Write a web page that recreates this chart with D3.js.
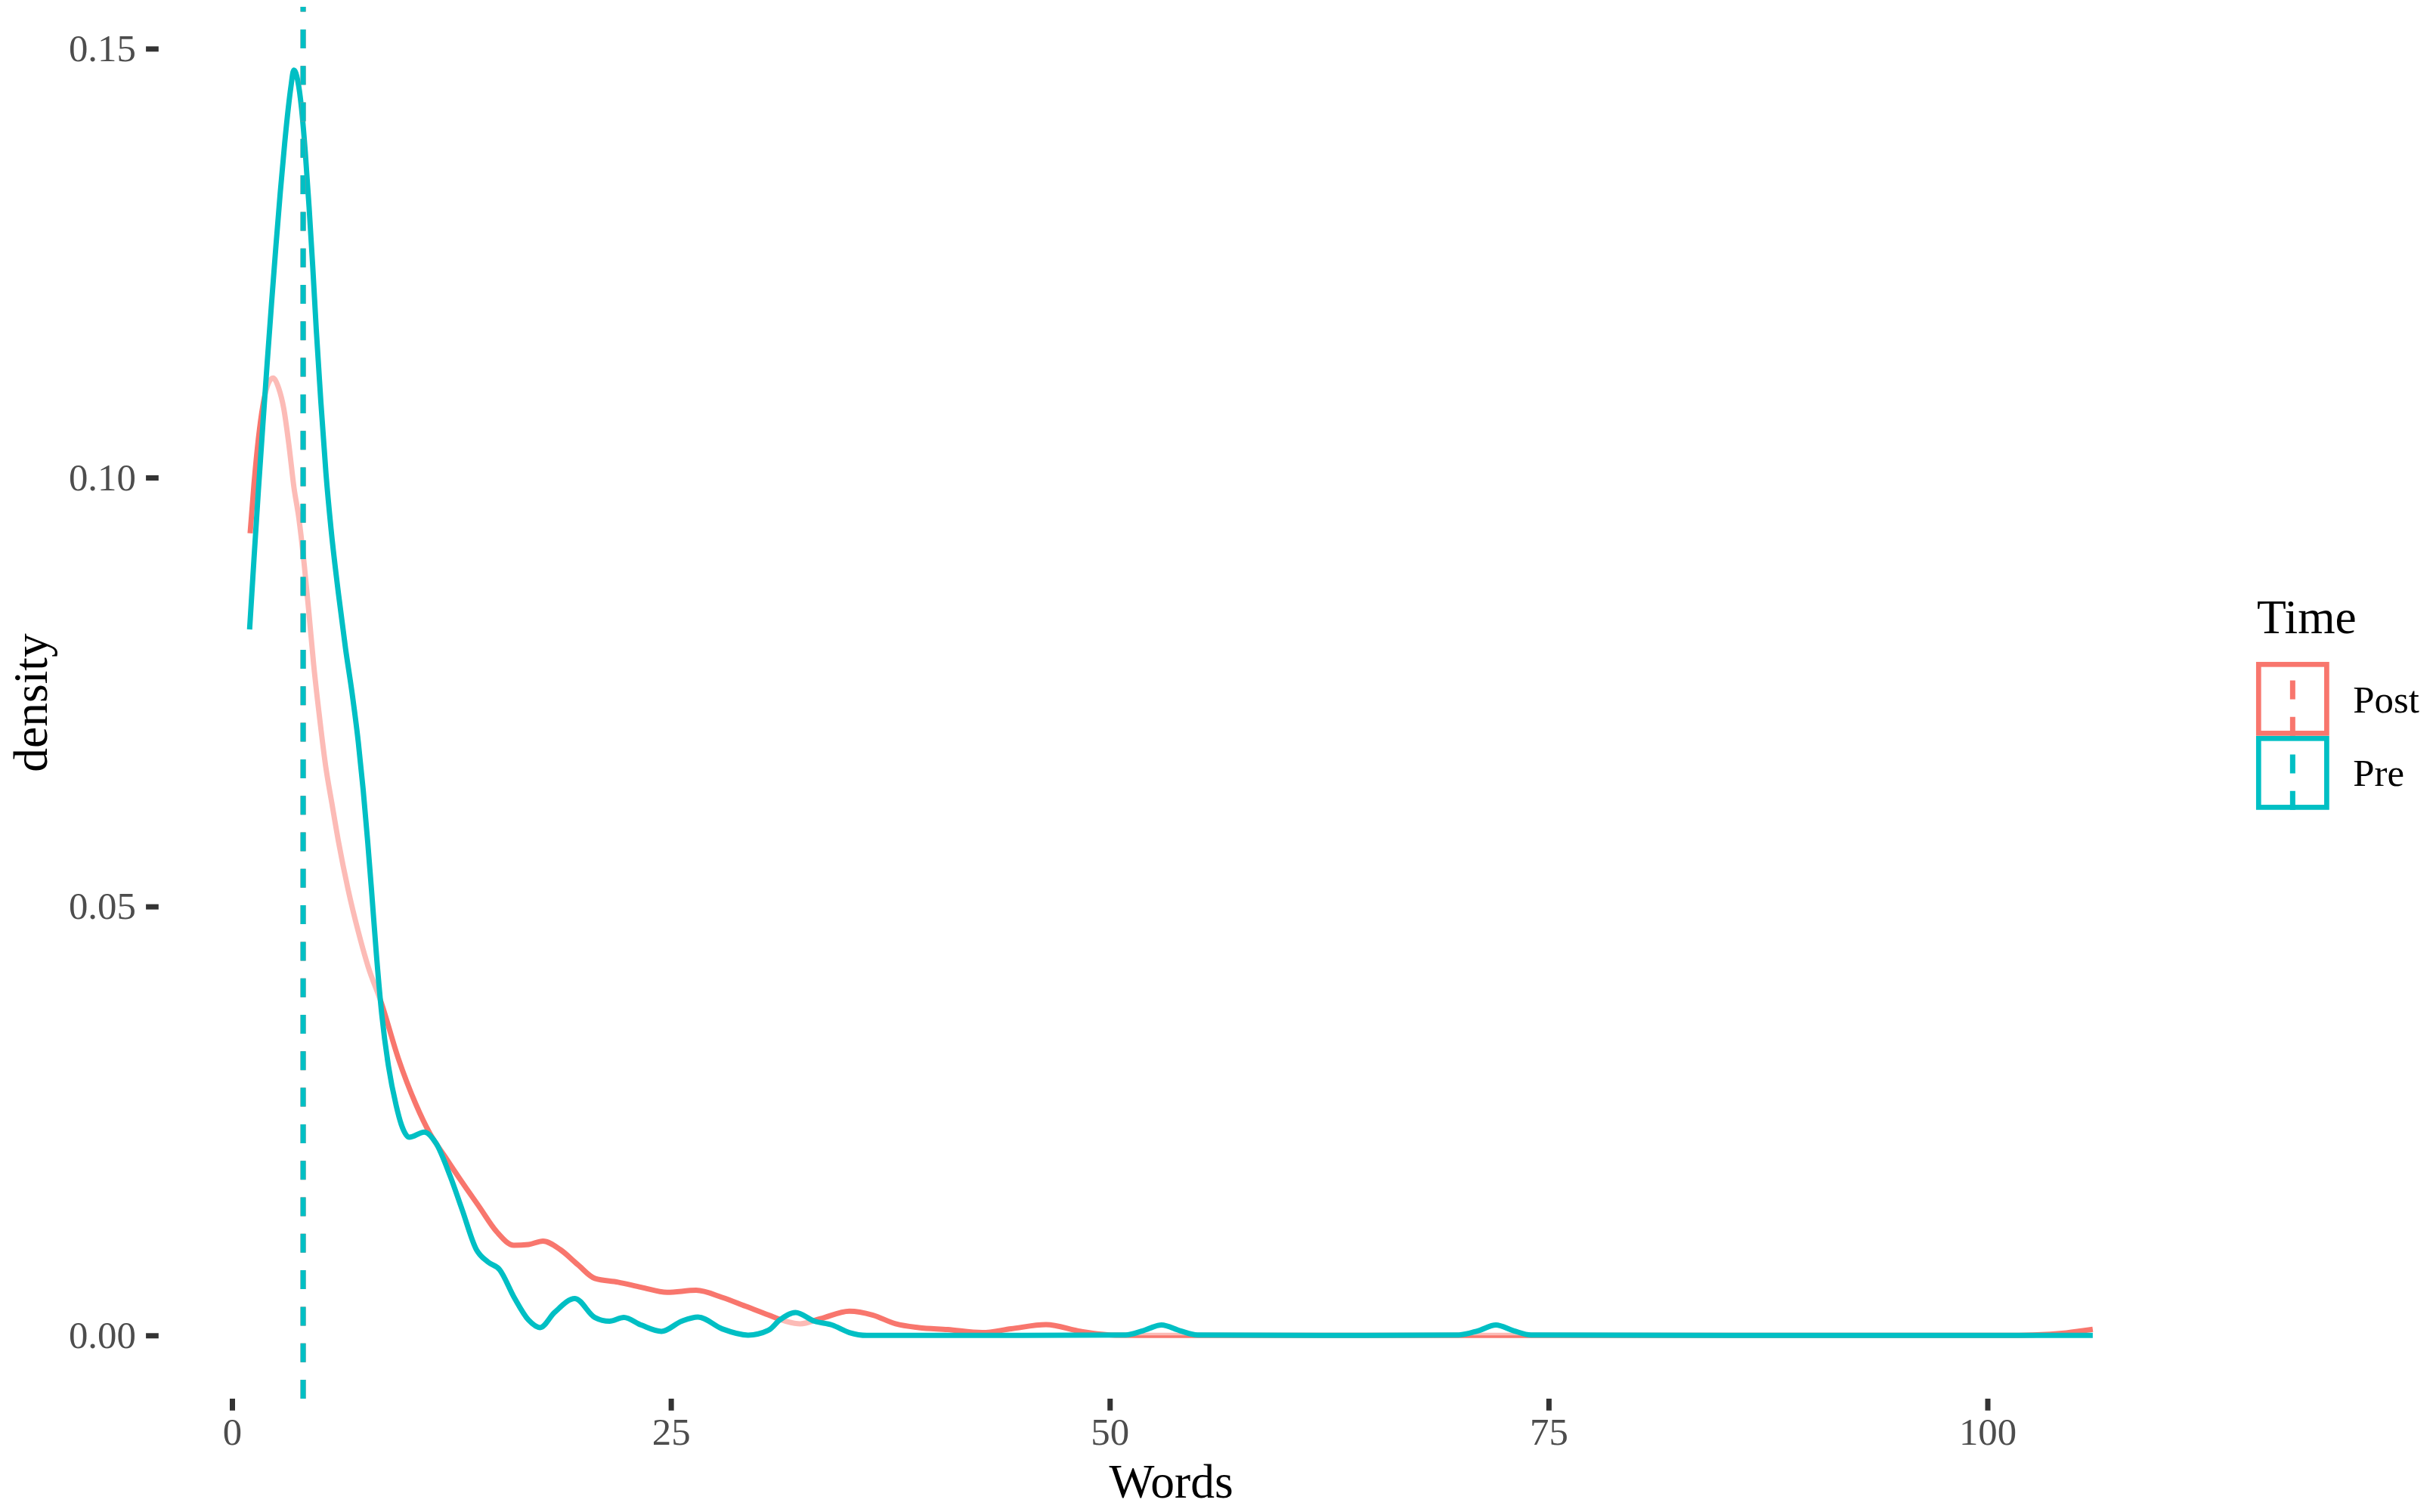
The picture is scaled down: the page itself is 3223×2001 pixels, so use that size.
<!doctype html>
<html lang="en">
  <head>
    <meta charset="UTF-8" />
    <title>Words density, Pre vs Post</title>
    <script src="https://d3js.org/d3.v7.min.js"></script>
    <style>
      html,body{margin:0;padding:0;background:#fff;}
      svg{display:block;font-family:"Liberation Serif","Times New Roman",serif;}
    </style>
  </head>
  <body>
    <div id="chart"></div>
    <script>
      /* ───────── data ───────── */
      const timeLevels = ['Post','Pre'];
      const timeColours = ['#F8766D','#00BFC4'];

      const wordsPost   = [1.03,1.25,1.5,1.75,2.0,2.33,2.66,2.95,3.24,3.53,3.79,4.11,4.39,4.65,4.97,5.33,5.69,6.06,6.61,
                           7.2,7.75,8.5,9.47,10.46,11.28,12.11,13.09,14.08,15.07,16.06,16.9,17.71,18.7,19.69,20.67,21.99,
                           23.31,24.79,26.44,27.92,29.24,30.56,31.55,32.37,33.52,35.17,36.49,37.8,39.12,40.77,42.74,44.39,
                           46.37,48.35,50.3,52,60,80,101,102.6,104.5,106];
      const densityPost = [.0935,.0992,.1045,.1083,.1106,.1116,.1104,.1080,.1038,.0988,.0955,.0899,.0840,.0782,.0723,.0664,.0620,.0576,.0520,
                           .0470,.0430,.0388,.0323,.0270,.0235,.0209,.0179,.0150,.0121,.0105,.0106,.0110,.0100,.00826,.00664,.0062,
                           .00561,.00502,.00526,.00443,.00341,.00238,.00165,.00135,.00194,.00282,.00238,.00135,.00091,.00068,.00033,.00077,
                           .00126,.00047,.00003,0,0,0,0,.00005,.0003,.0007];

      const wordsPre    = [1.0,1.25,1.5,1.75,2.0,2.25,2.5,2.75,3.0,3.2,3.35,3.52,3.75,3.95,4.17,4.39,4.6,4.8,
                           5.06,5.35,5.64,6.06,6.47,6.83,7.19,7.47,7.73,7.95,8.24,8.53,8.91,9.35,9.64,10.1,10.95,11.62,12.44,
                           13.1,13.92,14.58,15.24,16.07,16.89,17.55,18.37,19.53,20.67,21.5,22.32,23.31,24.46,25.61,26.54,27.92,
                           29.4,30.56,31.2,32.1,33.19,34.18,35.17,36.16,45,50.9,51.9,52.95,54.0,55.0,62,69.9,71.0,72.0,73.0,74.0,90,106];
      const densityPre  = [.0823,.0905,.0985,.1060,.1133,.1203,.1270,.1333,.1390,.1430,.1455,.1475,.1462,.1432,.1380,.1315,.1245,.1172,
                           .1088,.1005,.0940,.0865,.0800,.0750,.0692,.0636,.0575,.0518,.0440,.0374,.0314,.0268,.0246,.0231,.0237,.0224,.0185,
                           .0147,.0100,.00855,.00767,.00443,.00179,.00091,.00267,.00429,.00209,.00165,.00209,.00121,.00047,.00165,.00214,.00076,
                           .00003,.0006,.00179,.00267,.00165,.00121,.00033,0,0,.00005,.00055,.00121,.00055,.00005,0,.00005,.00055,.00121,.00055,.00005,0,0];

      const vlineWords = [4.05,4.05];           // Post drawn first, Pre on top

      const xTicks = [0,25,50,75,100];
      const yTicks = [0,0.05,0.10,0.15];

      /* ───────── geometry ───────── */
      const W=3223, H=2001;
      const LW=7;                               // line width of curves / ticks
      const DASH='25,23.3';

      const x=d3.scaleLinear().domain([1-5.25,106+5.25]).range([208.3,2890.8]);
      const y=d3.scaleLinear().domain([-0.007375,0.154875]).range([1851,9]);
      const [pL,pR]=x.range(), [pB,pT]=y.range();

      const svg=d3.select('#chart').append('svg')
                  .attr('width',W).attr('height',H);
      svg.append('rect').attr('width',W).attr('height',H).attr('fill','#fff');

      /* ───────── density layers ───────── */
      const series=[
        {xs:wordsPost,ys:densityPost,col:timeColours[0]},
        {xs:wordsPre, ys:densityPre, col:timeColours[1]}
      ];
      const area=d3.area().x(d=>x(d[0])).y0(y(0)).y1(d=>y(d[1])).curve(d3.curveMonotoneX);
      const line=d3.line().x(d=>x(d[0])).y(d=>y(d[1])).curve(d3.curveMonotoneX);

      series.forEach(s=>{
        const pts=s.xs.map((v,i)=>[v,s.ys[i]]);
        svg.append('path').attr('d',area(pts))
           .attr('fill','#fff').attr('fill-opacity',0.5).attr('stroke','none');
        svg.append('path').attr('d',line(pts))
           .attr('fill','none').attr('stroke',s.col)
           .attr('stroke-width',LW).attr('stroke-linejoin','round');
      });

      /* ───────── dashed vlines (drawn bottom → top) ───────── */
      vlineWords.forEach((v,i)=>{
        svg.append('line')
           .attr('x1',x(v)).attr('x2',x(v)).attr('y1',pB).attr('y2',pT)
           .attr('stroke',timeColours[i]).attr('stroke-width',LW)
           .attr('stroke-dasharray',DASH);
      });

      /* ───────── axes ───────── */
      function styleAxis(g){
        g.select('.domain').remove();
        g.selectAll('line').attr('stroke','#333333').attr('stroke-width',LW);
        g.selectAll('text').attr('fill','#4D4D4D')
         .style('font-size','50.8px').style('font-family','"Liberation Serif",serif');
      }

      const gx=svg.append('g').attr('transform',`translate(0,${pB})`)
                  .call(d3.axisBottom(x).tickValues(xTicks).tickFormat(d3.format('d'))
                          .tickSizeOuter(0).tickSize(15.7).tickPadding(9.5));
      styleAxis(gx);

      const gy=svg.append('g').attr('transform',`translate(${pL+1.5},0)`)
                  .call(d3.axisLeft(y).tickValues(yTicks).tickFormat(d3.format('.2f'))
                          .tickSizeOuter(0).tickSize(16.7).tickPadding(13.3));
      styleAxis(gy);

      /* axis titles */
      svg.append('text')
         .attr('x',(pL+pR)/2).attr('y',1981.7)
         .attr('text-anchor','middle').style('font-size','63.5px')
         .attr('fill','#000').text('Words');

      svg.append('text')
         .attr('transform',`translate(61.7,${(pB+pT)/2}) rotate(-90)`)
         .attr('text-anchor','middle').style('font-size','63.5px')
         .attr('fill','#000').text('density');

      /* ───────── legend ───────── */
      const leg=svg.append('g');
      leg.append('text').attr('x',2986).attr('y',838)
         .style('font-size','63.5px').attr('fill','#000').text('Time');

      const keyTop=[876,974], keyH=97.7, keyL=2985, keyW=96.7;
      timeLevels.forEach((lab,i)=>{
        const t=keyTop[i];
        leg.append('rect')
           .attr('x',keyL+LW/2-0.2).attr('y',t+LW/2-0.2)
           .attr('width',keyW-LW+0.4).attr('height',keyH-LW+0.4)
           .attr('fill','#fff').attr('fill-opacity',0.5)
           .attr('stroke',timeColours[i]).attr('stroke-width',LW-0.3);
        leg.append('line')
           .attr('x1',keyL+keyW/2).attr('x2',keyL+keyW/2)
           .attr('y1',t+keyH).attr('y2',t)
           .attr('stroke',timeColours[i]).attr('stroke-width',LW)
           .attr('stroke-dasharray',DASH);
        leg.append('text').attr('x',3113.3).attr('y',[942.7,1040][i])
           .style('font-size','50.8px').attr('fill','#000').text(lab);
      });
    </script>
  </body>
</html>
